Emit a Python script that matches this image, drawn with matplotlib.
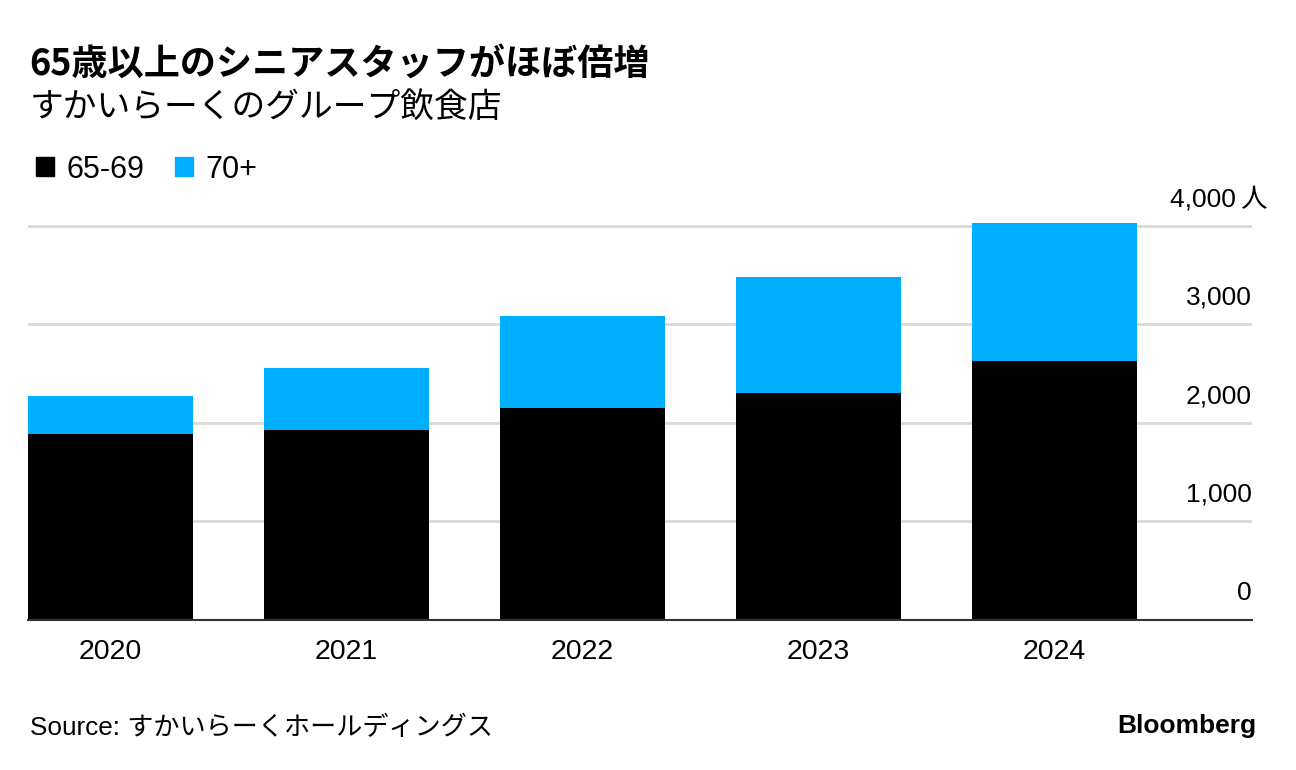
import matplotlib.pyplot as plt
from matplotlib.patches import Patch

plt.rcParams['font.family'] = ['Liberation Sans', 'Noto Sans CJK JP', 'DejaVu Sans']

years = ['2020', '2021', '2022', '2023', '2024']
age_65_69 = [1885, 1930, 2150, 2305, 2630]
age_70_plus = [390, 630, 935, 1175, 1400]
y_ticks = [0, 1000, 2000, 3000, 4000]

black = '#000000'
blue = '#00aeff'

fig = plt.figure(figsize=(12.96, 7.70), dpi=100)
ax = fig.add_axes([28 / 1296, 1 - 620 / 770, (1252 - 28) / 1296, (620 - 216) / 770])

x = range(len(years))
ax.bar(x, age_65_69, width=0.7, color=black, zorder=3)
ax.bar(x, age_70_plus, width=0.7, bottom=age_65_69, color=blue, zorder=3)

ax.set_xlim(-0.35, 4.837)
ax.set_ylim(0, 4100)
ax.set_xticks(list(x))
ax.set_xticklabels(years, fontsize=20.5)
ax.tick_params(axis='x', length=0, pad=14)

# grid lines and right-side labels sitting above them
ax.set_yticks(y_ticks)
ax.yaxis.grid(True, color='#d9d9d9', linewidth=2, zorder=0)
ax.tick_params(axis='y', length=0, labelleft=False)
for v in y_ticks:
    label = f'{v:,}'
    xpos = 1.0
    if v == 4000:
        label = label + '\u2009人'
        xpos = 1.0 + 16 / 1224
    ax.text(xpos, v + 150, label, transform=ax.get_yaxis_transform(),
            ha='right', va='bottom', fontsize=19)

for s in ['top', 'right', 'left']:
    ax.spines[s].set_visible(False)
ax.spines['bottom'].set_color('#333333')
ax.spines['bottom'].set_linewidth(1.5)
ax.spines['bottom'].set_zorder(4)

fig.text(29 / 1296, 1 - 47 / 770, '65歳以上のシニアスタッフがほぼ倍増',
         fontsize=26, fontweight='bold', va='top', family=['Noto Sans CJK JP'])
fig.text(30 / 1296, 1 - 90 / 770, 'すかいらーくのグループ飲食店',
         fontsize=24.3, va='top', family=['Noto Sans CJK JP'])

handles = [Patch(color=black, label='65-69'), Patch(color=blue, label='70+')]
fig.legend(handles=handles, loc='upper left', bbox_to_anchor=(8 / 1296, 1 - 127 / 770),
           ncol=2, frameon=False, fontsize=22, handlelength=0.6, handleheight=0.6,
           handletextpad=0.4, columnspacing=1.0)

fig.text(30 / 1296, 1 - 728 / 770, 'Source: すかいらーくホールディングス',
         fontsize=18.8, va='center')
fig.text(1256 / 1296, 1 - 726 / 770, 'Bloomberg', fontsize=19, fontweight='bold',
         va='center', ha='right')

fig.savefig('out.png', dpi=100)
